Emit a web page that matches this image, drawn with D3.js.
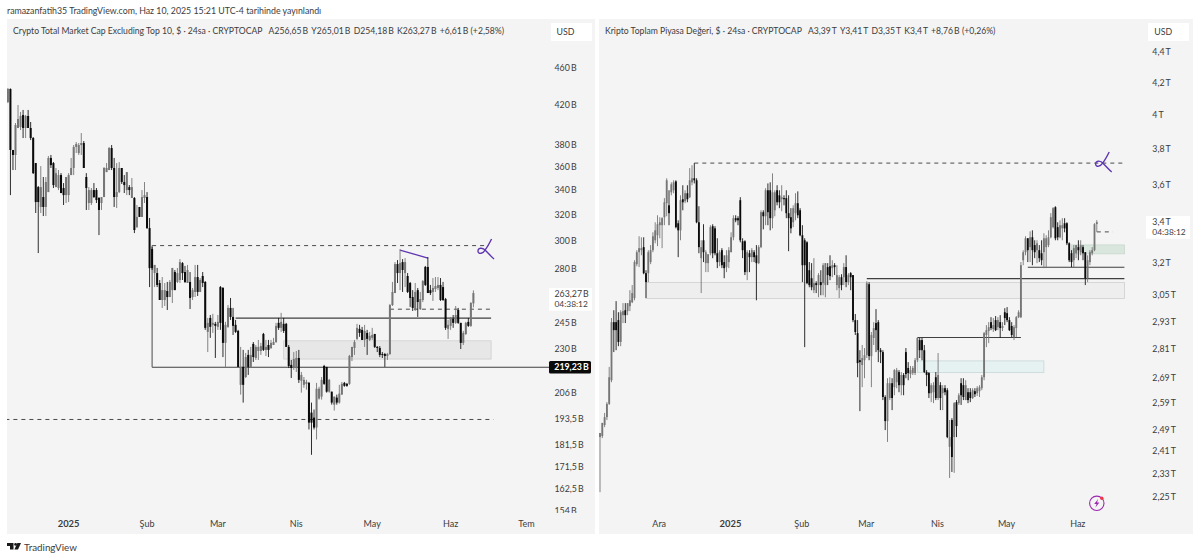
<!DOCTYPE html>
<html>
<head>
  <meta charset="utf-8">
  <title>Crypto market cap</title>
  <style>
    body { margin: 0; background: #fff; }
    svg { display: block; }
    text { font-family: Lato, "Open Sans", sans-serif; fill: #3c3c3c; white-space: pre; }
  </style>
</head>
<body>
  <script src="https://d3js.org/d3.v7.min.js"></script>
  <script>
    const width = 1200, height = 559;

    // left chart, billions
    const leftOpen = [
      421.9,435.7,374.8,370.2,395.7,396.7,408.6,395.7,407.6,395.7,
      386,362.9,342,325.6,333.7,325.6,337.8,367.5,362.9,342,
      341.2,352.3,341.2,335.3,335.3,352.3,358.5,377.6,372,379.4,
      381.3,350.6,328.8,328.8,339.5,339.5,332.9,328.8,333.7,354.9,
      356.7,376.6,358.5,333.7,337.8,358.5,346.3,339.5,342,332.9,
      332.9,309.9,325.6,317.7,332.9,333.7,309.1,293.5,276.6,276.6,
      269.9,258.8,258.8,264.6,260.7,265.2,277.3,270.6,271.9,283.5,
      277.3,269.9,270.6,260.7,264,273.9,264,274.6,270.6,239.2,
      247.6,243.4,244,242.2,267.2,266.6,232.8,242.2,253.8,248.2,
      243.4,239.8,209.9,219.4,214,226,219.4,232.2,224.3,228.2,
      228.2,238,228.8,231.6,229.9,231.6,233.3,244.6,241.6,244,
      244,230.5,220.5,218.8,218.8,224.3,212,209.9,210.4,210.9,
      196,193.6,188.9,202.9,203.9,219.9,219.4,206.4,206.4,199.9,
      203.4,200.9,204.9,210.9,210.4,210.4,224.8,229.9,235.1,241,
      240.4,234.5,238.6,234.5,235.7,238,230.5,229.9,226.5,226.5,
      225.4,226.5,255.6,263.3,282.8,276.6,284.2,276.6,274.6,269.9,
      260.7,253.1,265.2,253.1,258.8,280.8,280.8,265.2,264,265.9,
      266.6,268.6,267.2,259.4,241,242.8,247,244.6,252.5,244.6,
      232.8,238,245.2,242.8,256.65];
    const leftHigh = [
      436.8,436.3,374.8,400.6,418.8,411.7,413.7,408.6,413.7,401.6,
      387,362.9,342.9,360.2,350.6,350.6,369.3,370.2,363.8,358.5,
      356.7,354,345.4,350.6,354,367.5,379.4,382.2,381.3,390.8,
      383.2,354,342,341.2,345.4,341.2,333.7,333.7,359.3,362.9,
      377.6,379.4,367.5,362.9,363.8,358.5,352.3,354.9,343.7,349.7,
      333.7,327.2,325.6,339.5,346.3,337.8,316.9,295,282.2,280.1,
      271.9,273.9,269.9,270.6,271.9,280.1,278.7,280.1,286.3,284.2,
      281.5,282.2,277.3,266.6,282.2,282.2,273.2,277.3,271.2,247.6,
      249.4,250.1,245.2,249.4,267.9,267.2,245.2,255.6,260.1,253.8,
      246.4,240.4,230.5,228.8,227.1,228.8,230.5,233.3,231.6,234.5,
      232.8,238.6,234.5,234.5,234.5,235.7,244.6,247.6,250.7,247.6,
      244.6,231.6,223.2,227.6,228.2,228.8,216.7,214,212.5,211.4,
      200.9,197.5,210.9,208.9,214,220.5,219.4,213,206.4,203.9,
      204.9,209.9,211.4,211.4,210.9,226,230.5,234.5,244,243.4,
      242.2,243.4,240.4,239.2,241.6,238,231,231,227.6,227.1,
      227.1,256.3,270.6,284.2,285.6,293.5,286.3,287,276.6,270.6,
      265.2,269.9,266.6,264,271.9,281.5,287.8,268.6,273.2,273.9,
      273.9,273.2,270.6,260.1,246.4,248.2,249.4,255,253.8,244.6,
      239.8,245.2,247.6,257.5,265.01];
    const leftLow = [
      420.8,335.3,356.7,356.7,395.7,393.7,386,386,395.7,384.1,
      353.2,320.8,290.6,320.8,318.4,318.4,337.8,358.5,341.2,342,
      339.5,337,327.2,328.8,329.6,352.3,352.3,372,370.2,370.2,
      358.5,323.2,323.2,327.2,332.9,328.8,303.8,323.2,333.7,354.9,
      356.7,356.7,325.6,324.8,337,344.6,337,335.3,335.3,332.9,
      305.3,309.1,317.7,317.7,328.8,308.4,267.2,278.7,267.2,267.2,
      258.8,253.8,255,252.5,260.7,256.9,265.2,269.9,269.9,271.9,
      269.9,269.9,253.1,258.8,260.7,261.4,264,267.2,240.4,227.6,
      235.7,238.6,224.3,240.4,240.4,224.8,219.4,241.6,246.4,237.4,
      238.6,219.4,204.9,200.9,213.5,215.1,218.8,222.1,223.2,223.2,
      226,228.2,225.4,224.8,229.3,231.6,232.8,240.4,239.2,238.6,
      230.5,218.8,213.5,217.8,216.7,210.9,205.9,208.4,207.4,188,
      176.6,188,183.4,202.4,202.4,209.9,205.9,205.9,199.9,197,
      199.9,200.4,204.9,208.9,208.9,209.9,222.6,226,234.5,236.3,
      234.5,230.5,226,233.9,234.5,229.9,227.6,224.8,224.3,219.4,
      223.2,226,255,263.3,269.9,265.2,264,267.2,263.3,254.4,
      251.9,251.9,248.2,252.5,257.5,267.9,263.3,262,258.2,264,
      265.2,258.2,258.2,240.4,235.1,240.4,241.6,244,244,229.3,
      231.6,237.4,242.2,242.2,254.18];
    const leftClose = [
      435.7,374.8,370.2,398.6,404.6,407.6,395.7,407.6,395.7,386,
      354,329.6,329.6,342,325.6,346.3,367.5,361.1,343.7,354,
      352.3,337,335.3,350.6,352.3,358.5,377.6,380.4,379.4,381.3,
      358.5,341.2,339.5,339.5,333.7,331.2,323.2,333.7,358.5,358.5,
      376.6,358.5,333.7,337.8,358.5,346.3,343.7,354.9,339.5,342,
      307.6,317.7,317.7,333.7,335.3,309.1,280,280,282.2,268.6,
      258.8,265.2,265.2,260.7,270.6,280.1,265.2,276.6,284.2,276.6,
      270.6,278.7,260.1,265.2,273.9,264,271.9,269.9,241.6,244.6,
      242.2,244.6,242.8,245.2,244.6,232.8,243.4,253.8,248.2,242.8,
      239.2,219.4,219.4,209.9,224.8,219.4,226,224.8,230.5,230.5,
      231,228.8,230.5,228.8,232.8,233.3,242.8,241.6,245.2,239.8,
      230.5,219.9,218.8,223.7,224.3,212.5,215.1,212.5,211.4,191.2,
      191.2,188.9,207.9,207.9,212.5,210.4,206.4,212.5,200.9,203.9,
      200.9,205.4,210.4,209.4,209.4,225.4,230.5,233.3,241.6,238.6,
      234.5,239.8,235.1,236.9,237.4,230.5,229.9,226,226,225.4,
      226.5,255.6,264,282.8,276.6,283.5,278.7,284.2,264,260.1,
      253.8,264,257.5,259.4,271.2,268.6,263.3,263.3,266.6,267.9,
      268.6,258.8,258.8,241.6,243.4,247.6,244.6,249.4,244.6,232.8,
      238.6,244.6,242.8,256.9,263.27];

    // right chart, trillions
    const rightOpen = [
      2.459,2.463,2.504,2.534,2.585,2.679,2.924,2.924,2.933,2.838,
      2.955,2.977,2.973,2.995,3.013,3.032,3.191,3.249,3.259,3.274,
      3.148,3.148,3.201,3.259,3.308,3.333,3.384,3.384,3.425,3.498,
      3.487,3.556,3.567,3.615,3.394,3.358,3.519,3.509,3.551,3.530,
      3.610,3.632,3.621,3.399,3.220,3.308,3.196,3.196,3.244,3.379,
      3.368,3.244,3.201,3.259,3.201,3.177,3.201,3.249,3.323,3.420,
      3.420,3.514,3.303,3.303,3.153,3.244,3.225,3.249,3.234,3.196,
      3.274,3.451,3.430,3.567,3.567,3.420,3.461,3.567,3.540,3.519,
      3.525,3.525,3.446,3.425,3.399,3.446,3.498,3.461,3.333,3.308,
      3.298,3.162,3.124,3.068,3.101,3.092,3.106,3.101,3.092,3.177,
      3.181,3.172,3.186,3.092,3.078,3.129,3.129,3.177,3.106,3.148,
      3.139,2.933,2.876,2.761,2.741,2.761,2.782,3.096,2.778,2.855,
      2.920,2.924,2.803,2.795,2.612,2.519,2.608,2.667,2.651,2.671,
      2.712,2.659,2.700,2.795,2.729,2.704,2.708,2.708,2.761,2.846,
      2.846,2.803,2.712,2.708,2.627,2.631,2.691,2.608,2.659,2.627,
      2.647,2.639,2.423,2.523,2.459,2.592,2.588,2.667,2.659,2.600,
      2.631,2.631,2.608,2.635,2.627,2.635,2.647,2.691,2.868,2.885,
      2.924,2.894,2.933,2.902,2.924,2.898,2.968,2.964,2.933,2.907,
      2.859,2.898,2.946,2.946,3.210,3.249,3.318,3.274,3.323,3.284,
      3.259,3.259,3.244,3.249,3.274,3.284,3.323,3.374,3.477,3.374,
      3.323,3.368,3.394,3.394,3.293,3.244,3.210,3.244,3.274,3.249,
      3.274,3.249,3.124,3.201,3.244,3.259,3.39];
    const rightHigh = [
      2.474,2.512,2.550,2.592,2.733,2.942,2.977,3.018,2.968,2.977,
      3.009,3.009,3.009,3.068,3.092,3.210,3.259,3.328,3.323,3.323,
      3.162,3.259,3.284,3.348,3.399,3.435,3.425,3.425,3.525,3.632,
      3.567,3.610,3.621,3.621,3.409,3.540,3.594,3.567,3.594,3.688,
      3.704,3.716,3.632,3.482,3.308,3.389,3.259,3.239,3.384,3.389,
      3.379,3.318,3.259,3.269,3.234,3.259,3.274,3.348,3.435,3.435,
      3.430,3.530,3.318,3.308,3.259,3.259,3.269,3.259,3.284,3.284,
      3.461,3.461,3.578,3.604,3.610,3.659,3.567,3.594,3.567,3.594,
      3.540,3.567,3.540,3.472,3.487,3.551,3.561,3.472,3.384,3.318,
      3.303,3.201,3.196,3.220,3.110,3.148,3.162,3.196,3.196,3.196,
      3.234,3.210,3.196,3.186,3.139,3.143,3.196,3.234,3.148,3.153,
      3.139,2.960,2.933,2.803,2.825,2.812,3.110,3.106,2.881,2.924,
      2.982,2.933,2.812,2.803,2.619,2.687,2.691,2.687,2.724,2.729,
      2.720,2.712,2.708,2.812,2.753,2.737,2.737,2.770,2.859,2.855,
      2.855,2.825,2.720,2.712,2.667,2.671,2.712,2.791,2.671,2.659,
      2.659,2.647,2.523,2.530,2.592,2.600,2.627,2.687,2.687,2.679,
      2.647,2.647,2.647,2.647,2.655,2.659,2.700,2.881,2.911,2.924,
      2.946,2.942,2.951,2.946,2.955,2.924,2.986,2.991,2.946,2.924,
      2.911,2.951,2.977,3.201,3.259,3.328,3.318,3.353,3.358,3.308,
      3.308,3.284,3.308,3.343,3.333,3.358,3.446,3.477,3.482,3.399,
      3.409,3.420,3.420,3.399,3.298,3.259,3.284,3.284,3.308,3.308,
      3.284,3.249,3.234,3.259,3.274,3.394,3.41];
    const rightLow = [
      2.263,2.455,2.496,2.523,2.581,2.671,2.795,2.803,2.820,2.820,
      2.920,2.920,2.955,2.973,3.009,3.022,3.181,3.177,3.234,3.143,
      3.032,3.106,3.191,3.249,3.293,3.279,3.318,3.269,3.384,3.430,
      3.384,3.540,3.551,3.368,3.225,3.308,3.461,3.498,3.503,3.525,
      3.594,3.604,3.394,3.244,3.055,3.201,3.153,3.153,3.234,3.220,
      3.234,3.172,3.181,3.172,3.124,3.153,3.172,3.249,3.308,3.399,
      3.384,3.298,3.220,3.139,3.115,3.153,3.201,3.201,3.022,3.191,
      3.269,3.363,3.384,3.384,3.358,3.368,3.430,3.487,3.472,3.456,
      3.487,3.420,3.254,3.343,3.374,3.409,3.420,3.328,3.106,2.816,
      3.096,3.082,3.068,3.055,3.055,3.036,3.045,3.045,3.036,3.092,
      3.115,3.129,3.139,3.068,3.032,3.068,3.092,3.082,3.092,3.068,
      2.924,2.868,2.691,2.557,2.651,2.687,2.770,2.761,2.651,2.825,
      2.795,2.753,2.749,2.600,2.485,2.441,2.600,2.561,2.619,2.647,
      2.631,2.619,2.619,2.687,2.679,2.687,2.700,2.700,2.753,2.770,
      2.761,2.708,2.655,2.608,2.592,2.588,2.600,2.600,2.561,2.561,
      2.619,2.455,2.312,2.333,2.330,2.459,2.581,2.581,2.600,2.600,
      2.588,2.592,2.604,2.612,2.616,2.612,2.639,2.679,2.816,2.833,
      2.889,2.881,2.885,2.889,2.855,2.885,2.911,2.924,2.885,2.859,
      2.846,2.859,2.942,2.942,3.186,3.234,3.201,3.201,3.186,3.220,
      3.196,3.201,3.186,3.172,3.177,3.274,3.318,3.368,3.308,3.308,
      3.318,3.308,3.348,3.284,3.201,3.177,3.177,3.220,3.210,3.234,
      3.210,3.092,3.106,3.186,3.234,3.254,3.35];
    const rightClose = [
      2.474,2.512,2.534,2.585,2.691,2.924,2.889,2.889,2.838,2.968,
      2.973,2.955,3.009,3.022,3.055,3.201,3.249,3.269,3.269,3.148,
      3.106,3.249,3.259,3.328,3.358,3.389,3.399,3.420,3.503,3.621,
      3.446,3.599,3.610,3.374,3.358,3.514,3.503,3.551,3.519,3.621,
      3.632,3.621,3.399,3.274,3.274,3.249,3.249,3.239,3.374,3.244,
      3.244,3.201,3.249,3.186,3.172,3.234,3.259,3.323,3.420,3.409,
      3.409,3.308,3.259,3.153,3.249,3.225,3.259,3.225,3.196,3.274,
      3.451,3.430,3.567,3.451,3.420,3.556,3.556,3.503,3.503,3.530,
      3.519,3.446,3.420,3.368,3.472,3.498,3.435,3.333,3.186,3.186,
      3.101,3.092,3.082,3.101,3.092,3.139,3.092,3.186,3.196,3.139,
      3.134,3.186,3.177,3.139,3.129,3.092,3.177,3.106,3.139,3.129,
      2.933,2.881,2.749,2.753,2.770,2.782,3.101,2.778,2.868,2.898,
      2.889,2.803,2.795,2.612,2.519,2.667,2.667,2.608,2.720,2.720,
      2.659,2.700,2.659,2.704,2.708,2.720,2.729,2.761,2.855,2.803,
      2.803,2.712,2.700,2.627,2.659,2.659,2.608,2.700,2.608,2.647,
      2.631,2.459,2.459,2.386,2.588,2.500,2.619,2.619,2.612,2.659,
      2.600,2.608,2.639,2.623,2.647,2.651,2.691,2.876,2.889,2.902,
      2.898,2.911,2.889,2.933,2.898,2.907,2.942,2.933,2.889,2.868,
      2.902,2.946,2.968,3.186,3.249,3.318,3.259,3.323,3.259,3.249,
      3.293,3.220,3.210,3.318,3.318,3.323,3.425,3.472,3.318,3.323,
      3.384,3.384,3.368,3.293,3.210,3.201,3.269,3.284,3.259,3.284,
      3.244,3.124,3.210,3.249,3.259,3.389,3.40];

    const leftPriceTicks = [460,420,380,360,340,320,300,280,245,230,206,193.5,181.5,171.5,162.5,154];
    const leftPriceLabels = ["460\u2009B","420\u2009B","380\u2009B","360\u2009B","340\u2009B","320\u2009B","300\u2009B","280\u2009B","245\u2009B","230\u2009B","206\u2009B","193,5\u2009B","181,5\u2009B","171,5\u2009B","162,5\u2009B","154\u2009B"];
    const rightPriceTicks = [4.4,4.2,4,3.8,3.6,3.2,3.05,2.93,2.81,2.69,2.59,2.49,2.41,2.33,2.25];
    const rightPriceLabels = ["4,4\u2009T","4,2\u2009T","4\u2009T","3,8\u2009T","3,6\u2009T","3,2\u2009T","3,05\u2009T","2,93\u2009T","2,81\u2009T","2,69\u2009T","2,59\u2009T","2,49\u2009T","2,41\u2009T","2,33\u2009T","2,25\u2009T"];

    const day = (m, d, y = 2025) => new Date(Date.UTC(y, m - 1, d));
    const leftMonths = [[day(1,1),"2025"],[day(2,1),"Şub"],[day(3,1),"Mar"],[day(4,1),"Nis"],[day(5,1),"May"],[day(6,1),"Haz"],[day(7,1),"Tem"]];
    const rightMonths = [[day(12,1,2024),"Ara"],[day(1,1),"2025"],[day(2,1),"Şub"],[day(3,1),"Mar"],[day(4,1),"Nis"],[day(5,1),"May"],[day(6,1),"Haz"]];

    // drawn levels and zones: [from, to, price]
    const leftSolid = [[day(2,3), day(7,10), 219.23], [day(3,8), day(6,17), 247.5]];
    const leftDashed = [[day(2,3), day(6,16), 296], [day(5,8), day(6,17), 253], [day(12,7,2024), day(6,18), 192.7]];
    const leftZones = [[day(3,27), day(6,17), 234, 223.7, "#e7e7e7", "#cfcfcf"]];
    const rightSolid = [[day(5,11), day(6,22), 3.176], [day(3,2), day(6,22), 3.122], [day(3,24), day(5,8), 2.857]];
    const rightDashed = [[day(12,17,2024), day(6,22), 3.716], [day(6,10), day(6,17), 3.35]];
    const rightZones = [
      [day(11,26,2024), day(6,22), 3.104, 3.03, "#eeeeee", "#cfcfcf"],
      [day(5,30), day(6,22), 3.285, 3.241, "#d9e6dd", "#c8d8cd"],
      [day(3,24), day(5,18), 2.758, 2.71, "#e6f2f2", "#c9d6d6"]
    ];

    const svg = d3.select("body").append("svg").attr("width", width).attr("height", height);

    svg.append("text").attr("x", 7).attr("y", 14).attr("font-size", 8.8)
      .text("ramazanfatih35 TradingView.com, Haz 10, 2025 15:21 UTC-4 tarihinde yayınlandı");

    function drawPanel(p) {
      const g = svg.append("g");
      g.append("rect").attr("x", p.left).attr("y", 19).attr("width", p.right - p.left).attr("height", 515).attr("fill", "#f4f4f4");

      const candles = p.open.map((o, i) => ({
        date: d3.utcDay.offset(p.first, i), o, h: p.high[i], l: p.low[i], c: p.close[i]
      }));
      const x = d3.scaleUtc().domain([candles[0].date, candles[candles.length - 1].date]).range(p.xRange);
      const y = d3.scaleLog().domain(p.yDomain).range(p.yRange);
      const step = (p.xRange[1] - p.xRange[0]) / (candles.length - 1);

      const clipId = "clip" + p.left;
      g.append("clipPath").attr("id", clipId).append("rect")
        .attr("x", p.left).attr("y", 19).attr("width", p.plotRight - p.left).attr("height", 493);

      const plot = g.append("g").attr("clip-path", `url(#${clipId})`);

      plot.selectAll(".zone").data(p.zones).join("rect")
        .attr("x", d => x(d[0])).attr("width", d => x(d[1]) - x(d[0]))
        .attr("y", d => y(d[2])).attr("height", d => y(d[3]) - y(d[2]))
        .attr("fill", d => d[4]).attr("stroke", d => d[5]).attr("stroke-width", 0.8);

      plot.selectAll(".solid").data(p.solid).join("line")
        .attr("x1", d => x(d[0])).attr("x2", d => x(d[1]))
        .attr("y1", d => y(d[2])).attr("y2", d => y(d[2]))
        .attr("stroke", "#3f3f3f").attr("stroke-width", 1.1);

      plot.selectAll(".dashed").data(p.dashed).join("line")
        .attr("x1", d => x(d[0])).attr("x2", d => x(d[1]))
        .attr("y1", d => y(d[2])).attr("y2", d => y(d[2]))
        .attr("stroke", "#4a4a4a").attr("stroke-width", 1).attr("stroke-dasharray", "4 4");

      if (p.extra) p.extra(plot, x, y);

      const candle = plot.selectAll(".candle").data(candles).join("g")
        .attr("fill", d => d.c >= d.o ? "#767676" : "#0a0a0a")
        .attr("stroke", d => d.c >= d.o ? "#767676" : "#161616");
      candle.append("line")
        .attr("x1", d => x(d.date)).attr("x2", d => x(d.date))
        .attr("y1", d => y(d.h)).attr("y2", d => y(d.l))
        .attr("stroke-width", 0.9);
      candle.append("rect")
        .attr("x", d => x(d.date) - step * 0.4).attr("width", step * 0.8)
        .attr("y", d => y(Math.max(d.o, d.c)))
        .attr("height", d => Math.max(0.8, y(Math.min(d.o, d.c)) - y(Math.max(d.o, d.c))))
        .attr("stroke", "none");

      // scribble where the level gets crossed
      plot.append("path")
        .attr("transform", `translate(${x(p.scribble[0])},${y(p.scribble[1])})`)
        .attr("d", "M5.5,-11.5 C3.5,-7.5 1,-3 -1,-0.5 C-3,2.8 -7.2,4.2 -8,1 C-8.6,-2.8 -3.5,-3.6 -0.5,0 C2.5,3 5,6 8,8.5")
        .attr("fill", "none").attr("stroke", "#5e35b1").attr("stroke-width", 1.4);

      // title
      g.append("text").attr("x", p.left + 6).attr("y", 33.5).attr("font-size", 8.65).text(p.title);

      // USD box
      g.append("rect").attr("x", p.plotRight + 2).attr("y", 23).attr("width", 41).attr("height", 18).attr("fill", "#fff");
      g.append("text").attr("x", p.axisX + 2).attr("y", 35).attr("font-size", 8.8).text("USD");

      // price axis
      const axisClip = "axisclip" + p.left;
      g.append("clipPath").attr("id", axisClip).append("rect")
        .attr("x", p.plotRight).attr("y", 19).attr("width", p.right - p.plotRight).attr("height", 494);
      const axis = g.append("g").attr("clip-path", `url(#${axisClip})`);
      axis.selectAll("text").data(p.ticks).join("text")
        .attr("x", p.axisX).attr("y", d => y(d) + 0.7).attr("dy", "0.35em")
        .attr("font-size", 8.8).attr("fill", "#555")
        .text((d, i) => p.tickLabels[i]);

      // last price box with countdown
      g.append("rect").attr("x", p.lastBox[0]).attr("y", p.lastBox[1]).attr("width", p.lastBox[2]).attr("height", p.lastBox[3]).attr("fill", "#fff");
      g.append("text").attr("x", p.axisX).attr("y", p.lastBox[1] + 8.5).attr("font-size", 8.8).text(p.lastLabel);
      g.append("text").attr("x", p.axisX).attr("y", p.lastBox[1] + 18.5).attr("font-size", 8.4).attr("fill", "#8a8a8a").text("04:38:12");

      // time axis
      g.selectAll(".month").data(p.months).join("text")
        .attr("x", d => x(d[0]) + p.monthDx).attr("y", 527)
        .attr("text-anchor", "middle").attr("font-size", d => d[1] === "2025" ? 9.4 : 9)
        .attr("font-weight", d => d[1] === "2025" ? 700 : 400)
        .attr("fill", d => d[1] === "2025" ? "#333" : "#555")
        .text(d => d[1]);

      return { g, x, y };
    }

    const leftPanel = drawPanel({
      left: 7, right: 595, plotRight: 549, axisX: 554.5,
      first: day(12,8,2024), xRange: [7.9, 473.4],
      yDomain: [154, 460], yRange: [510.3, 67],
      open: leftOpen, high: leftHigh, low: leftLow, close: leftClose,
      ticks: leftPriceTicks, tickLabels: leftPriceLabels,
      months: leftMonths, monthDx: 0,
      solid: leftSolid, dashed: leftDashed, zones: leftZones,
      scribble: [day(6,15), 292.4],
      lastBox: [549, 288, 43, 22.7], lastLabel: "263,27\u2009B",
      title: "Crypto Total Market Cap Excluding Top 10, $ · 24sa · CRYPTOCAP   A256,65\u2009B \u2009Y265,01\u2009B \u2009D254,18\u2009B \u2009K263,27\u2009B \u2009+6,61\u2009B (+2,58%)",
      extra: (plot, x, y) => {
        // vertical leg of the base level
        plot.append("line")
          .attr("x1", x(day(2,3))).attr("x2", x(day(2,3)))
          .attr("y1", y(296)).attr("y2", y(219.23))
          .attr("stroke", "#5a5a5a").attr("stroke-width", 1.1);
        // falling purple trend line
        plot.append("line")
          .attr("x1", x(day(5,12))).attr("x2", x(day(5,23)))
          .attr("y1", y(292.8)).attr("y2", y(287))
          .attr("stroke", "#5e35b1").attr("stroke-width", 1.3);
      }
    });

    const rightPanel = drawPanel({
      left: 599, right: 1193, plotRight: 1146, axisX: 1152.3,
      first: day(11,6,2024), xRange: [600, 1096.8],
      yDomain: [2.25, 4.4], yRange: [496, 51],
      open: rightOpen, high: rightHigh, low: rightLow, close: rightClose,
      ticks: rightPriceTicks, tickLabels: rightPriceLabels,
      months: rightMonths, monthDx: 1.7,
      solid: rightSolid, dashed: rightDashed, zones: rightZones,
      scribble: [day(6,13), 3.714],
      lastBox: [1146, 216, 44, 22.7], lastLabel: "3,4\u2009T",
      title: "Kripto Toplam Piyasa Değeri, $ · 24sa · CRYPTOCAP   A3,39\u2009T \u2009Y3,41\u2009T \u2009D3,35\u2009T \u2009K3,4\u2009T \u2009+8,76\u2009B (+0,26%)",
      extra: null
    });

    // base level tag on the left axis
    const baseY = leftPanel.y(219.23);
    svg.append("rect").attr("x", 549).attr("y", baseY - 6.2).attr("width", 42).attr("height", 12.4).attr("rx", 1.5).attr("fill", "#0a0a0a");
    svg.append("text").attr("x", 554.3).attr("y", baseY).attr("dy", "0.35em").attr("font-size", 8.8).attr("font-weight", 700)
      .style("fill", "#fff").text("219,23\u2009B");

    // lightning badge on the right chart
    const badge = svg.append("g").attr("transform", `translate(${rightPanel.x(day(6,10))},${rightPanel.y(2.25) + 7.3})`);
    badge.append("circle").attr("r", 7.2).attr("fill", "none").attr("stroke", "#9c27b0").attr("stroke-width", 1.1);
    badge.append("path").attr("d", "M1.4,-4.2 L-2.6,0.8 H-0.2 L-1.4,4.2 L2.6,-0.9 H0.2 Z").attr("fill", "#9c27b0");
    badge.append("circle").attr("cx", 5).attr("cy", -5).attr("r", 1.7).attr("fill", "#f23645");

    // TradingView mark
    const logo = svg.append("g").attr("fill", "#1a1a1a");
    logo.append("path").attr("d", "M7,543 H13.5 V549.5 H10 V546 H7 Z");
    logo.append("circle").attr("cx", 15.6).attr("cy", 544.4).attr("r", 1.4);
    logo.append("path").attr("d", "M21,543 L18,549.5 H14.4 L17.4,543 Z");
    svg.append("text").attr("x", 24).attr("y", 550.5).attr("font-size", 9.8).text("TradingView");
  </script>
</body>
</html>
